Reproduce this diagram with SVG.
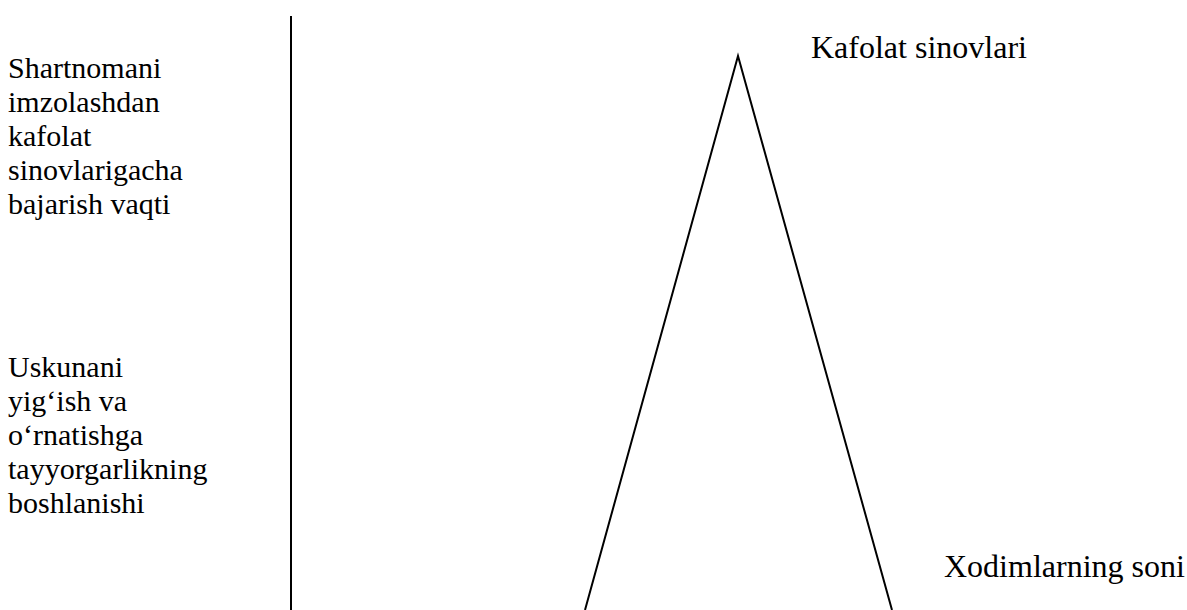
<svg xmlns="http://www.w3.org/2000/svg" width="1187" height="610" viewBox="0 0 1187 610">
<style>
.t{font-family:"Liberation Serif","Times New Roman",serif;font-size:30px;fill:#000}
.r{font-size:32px}
.ln{stroke:#000;stroke-width:2;fill:none}
</style>
<rect width="1187" height="610" fill="#fff"/>
<g id="axis">
<line class="ln" x1="291" y1="16" x2="291" y2="610"/>
</g>
<g id="left-top">
<text class="t">
<tspan x="8" y="78">Shartnomani</tspan>
<tspan x="8" y="112">imzolashdan</tspan>
<tspan x="8" y="146">kafolat</tspan>
<tspan x="8" y="180">sinovlarigacha</tspan>
<tspan x="8" y="214">bajarish vaqti</tspan>
</text>
</g>
<g id="left-bottom">
<text class="t">
<tspan x="8" y="377">Uskunani</tspan>
<tspan x="8" y="411">yig‘ish va</tspan>
<tspan x="8" y="445">o‘rnatishga</tspan>
<tspan x="8" y="479">tayyorgarlikning</tspan>
<tspan x="8" y="513">boshlanishi</tspan>
</text>
</g>
<g id="triangle">
<polyline class="ln" points="585,610 738,56 892,610"/>
</g>
<g id="label-top">
<text class="t r" x="811" y="58">Kafolat sinovlari</text>
</g>
<g id="label-bottom">
<text class="t r" x="944" y="577">Xodimlarning soni</text>
</g>
</svg>
